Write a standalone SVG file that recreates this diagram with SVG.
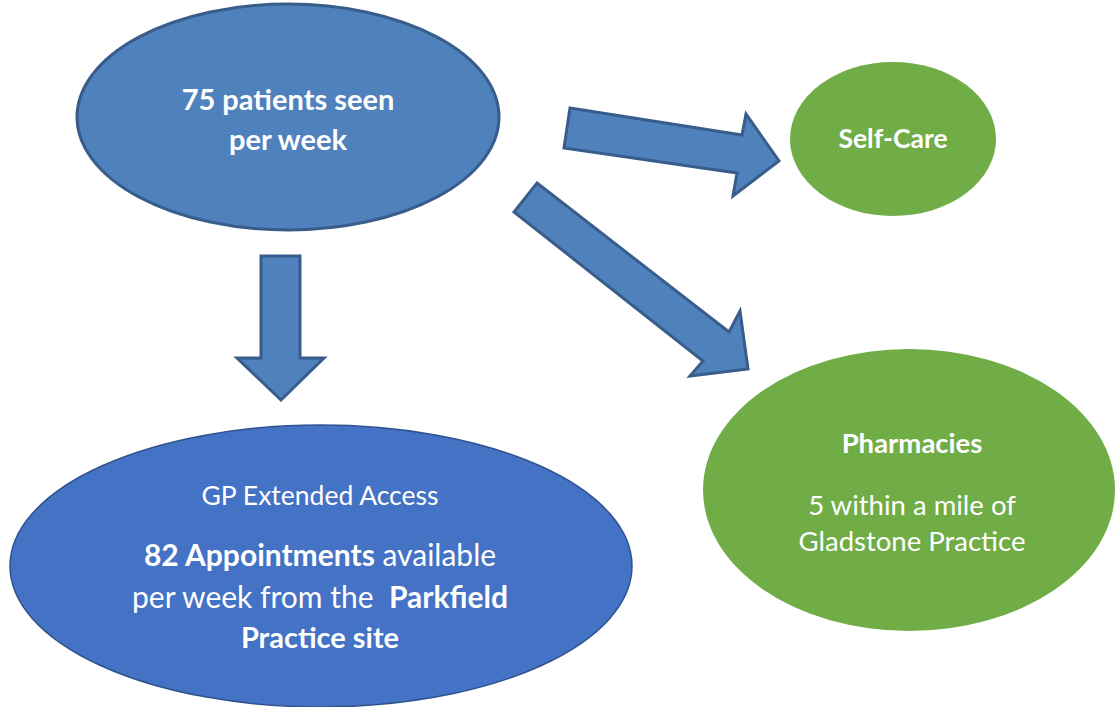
<svg xmlns="http://www.w3.org/2000/svg" width="1115" height="707" viewBox="0 0 1115 707">
<style>
.t{font-family:Lato,"Open Sans","Liberation Sans",sans-serif;fill:#ffffff;text-anchor:middle}
.b{font-weight:bold}
.arrow{fill:#4f81bd;stroke:#385d8a;stroke-width:3;stroke-linejoin:miter}
</style>
<rect width="1115" height="707" fill="#ffffff"/>
<g id="node-patients">
<ellipse cx="288" cy="117" rx="211" ry="113" fill="#4f81bd" stroke="#385d8a" stroke-width="3"/>
<text class="t b" x="288" y="110" font-size="29">75 patients seen</text>
<text class="t b" x="288" y="150" font-size="29">per week</text>
</g>
<g id="node-selfcare">
<ellipse cx="893" cy="139" rx="103" ry="77" fill="#70ad47"/>
<text class="t b" x="893" y="148" font-size="26.5">Self-Care</text>
</g>
<g id="node-pharmacies">
<ellipse cx="909" cy="490" rx="206" ry="141" fill="#70ad47"/>
<text class="t b" x="912" y="453" font-size="27.5">Pharmacies</text>
<text class="t" x="912" y="515" font-size="27.5">5 within a mile of</text>
<text class="t" x="912" y="551" font-size="27.5">Gladstone Practice</text>
</g>
<g id="node-gp">
<ellipse cx="321" cy="566" rx="311" ry="141" fill="#4472c4" stroke="#2f528f" stroke-width="1.5"/>
<text class="t" x="320" y="505" font-size="26.5">GP Extended Access</text>
<text class="t" x="320" y="566" font-size="30"><tspan class="b">82 Appointments</tspan> available</text>
<text class="t" x="320" y="608" font-size="30" xml:space="preserve">per week from the  <tspan class="b">Parkfield</tspan></text>
<text class="t b" x="320" y="648" font-size="29">Practice site</text>
</g>
<g id="connectors">
<polygon class="arrow" points="261,256 300,256 300,358 324,358 281,400 237,358 261,358"/>
<polygon class="arrow" points="570,108 742,135 746,114 779,161 733,196 737,173 564,148"/>
<polygon class="arrow" points="537,183 729,332 740,311 748,369 690,376 703,361 514,212"/>
</g>
</svg>
